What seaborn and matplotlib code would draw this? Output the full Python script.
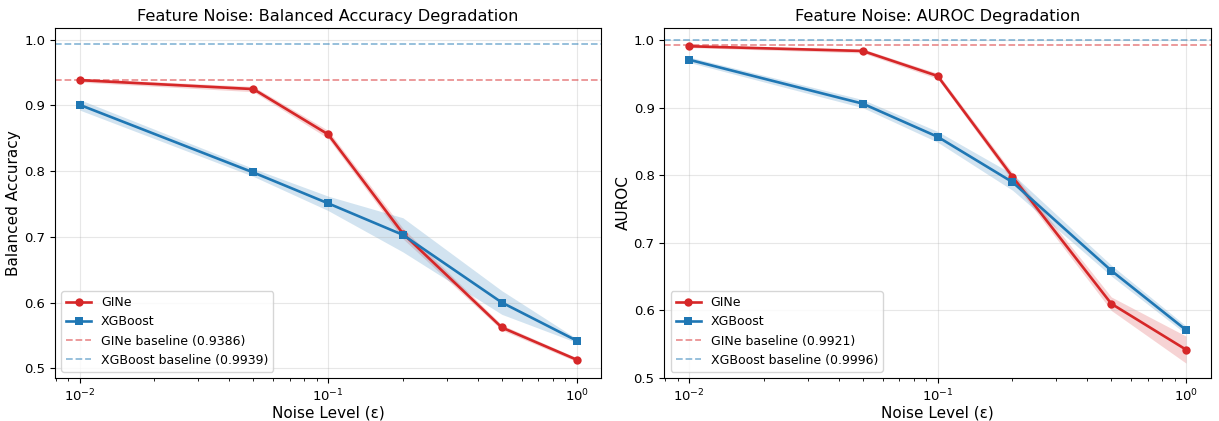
import numpy as np
import pandas as pd
import matplotlib
matplotlib.use("Agg")
import matplotlib.pyplot as plt
import seaborn as sns

plt.style.use("default")
plt.rcParams["font.family"] = ["DejaVu Sans"]

noise_levels = [0.01, 0.05, 0.1, 0.2, 0.5, 1.0]

# Balanced accuracy (mean and std across runs)
gine_bacc = [0.9386, 0.925, 0.856, 0.705, 0.562, 0.513]
gine_bacc_std = [0.003, 0.004, 0.006, 0.008, 0.004, 0.003]
xgb_bacc = [0.901, 0.798, 0.751, 0.703, 0.600, 0.542]
xgb_bacc_std = [0.008, 0.006, 0.011, 0.026, 0.018, 0.003]

# AUROC (mean and std across runs)
gine_auroc = [0.991, 0.984, 0.947, 0.798, 0.610, 0.542]
gine_auroc_std = [0.002, 0.003, 0.004, 0.006, 0.010, 0.020]
xgb_auroc = [0.971, 0.906, 0.857, 0.790, 0.659, 0.571]
xgb_auroc_std = [0.004, 0.006, 0.008, 0.012, 0.008, 0.006]

baselines_bacc = {"GINe": 0.9386, "XGBoost": 0.9939}
baselines_auroc = {"GINe": 0.9921, "XGBoost": 0.9996}

RED = "#d62728"
BLUE = "#1f77b4"

fig, axes = plt.subplots(1, 2, figsize=(12.19, 4.21), dpi=100)
fig.subplots_adjust(left=0.045, right=0.9934, bottom=0.102, top=0.9335,
                    wspace=0.115)


def draw_panel(ax, gine, gine_std, xgb, xgb_std, baselines, ylabel, title):
    df = pd.DataFrame({
        "noise": noise_levels * 2,
        "score": gine + xgb,
        "model": ["GINe"] * len(noise_levels) + ["XGBoost"] * len(noise_levels),
    })
    for model, color, marker, std in [("GINe", RED, "o", gine_std),
                                      ("XGBoost", BLUE, "s", xgb_std)]:
        sub = df[df.model == model]
        sns.lineplot(data=sub, x="noise", y="score", ax=ax, color=color,
                     marker=marker, markersize=6, markeredgewidth=0,
                     linewidth=1.9, label=model)
        m = np.array(sub.score)
        s = np.array(std)
        ax.fill_between(noise_levels, m - s, m + s, color=color, alpha=0.2,
                        linewidth=0)
    ax.axhline(baselines["GINe"], color=RED, linestyle="--", alpha=0.5,
               linewidth=1.3, label=f"GINe baseline ({baselines['GINe']:.4f})")
    ax.axhline(baselines["XGBoost"], color=BLUE, linestyle="--", alpha=0.5,
               linewidth=1.3,
               label=f"XGBoost baseline ({baselines['XGBoost']:.4f})")
    ax.set_xscale("log")
    ax.set_xlabel("Noise Level (ε)", fontsize=11, labelpad=1)
    ax.set_ylabel(ylabel, fontsize=11, labelpad=2)
    ax.set_title(title, fontsize=11.6, pad=5)
    ax.tick_params(labelsize=9.5)
    ax.grid(True, alpha=0.3)
    ax.legend(loc="lower left", fontsize=9)


draw_panel(axes[0], gine_bacc, gine_bacc_std, xgb_bacc, xgb_bacc_std,
           baselines_bacc, "Balanced Accuracy",
           "Feature Noise: Balanced Accuracy Degradation")
axes[0].set_ylim(0.485, 1.018)

draw_panel(axes[1], gine_auroc, gine_auroc_std, xgb_auroc, xgb_auroc_std,
           baselines_auroc, "AUROC", "Feature Noise: AUROC Degradation")
axes[1].set_ylim(0.5, 1.018)

for ax in axes:
    ax.set_xlim(10 ** -2.1, 10 ** 0.1)

fig.savefig("out.png", dpi=100)
